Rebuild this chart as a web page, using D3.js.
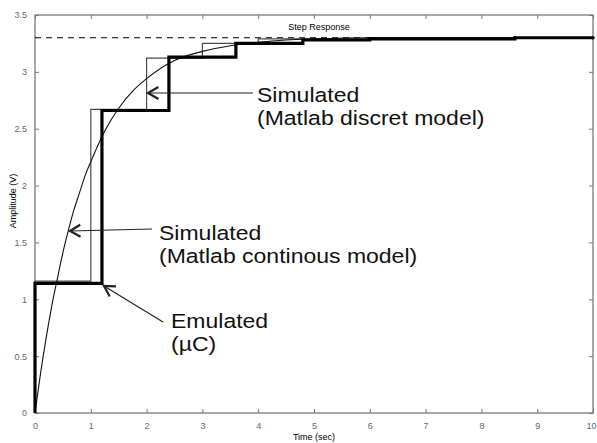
<!DOCTYPE html>
<html>
<head>
<meta charset="utf-8">
<script src="https://cdn.jsdelivr.net/npm/d3@7"></script>
<style>
  body { margin: 0; background: #fff; }
  svg { font-family: "Liberation Sans", Arial, sans-serif; }
</style>
</head>
<body>
<svg></svg>
<script>
// step response: continuous model, discrete model, emulated (uC)

const width = 597;
const height = 443;
const margin = { top: 15, right: 4, bottom: 30, left: 35 };

// datos
const xTicks = [0, 1, 2, 3, 4, 5, 6, 7, 8, 9, 10];
const yTicks = [0, 0.5, 1, 1.5, 2, 2.5, 3, 3.5];
const finalValue = 3.3;

// modelo continuo (Matlab)
const contT = [0, 0.1, 0.2, 0.3, 0.4, 0.5, 0.6, 0.7, 0.8, 0.9, 1, 1.25, 1.5, 1.75, 2, 2.5, 3, 3.5, 4, 4.5, 5, 6, 7, 8, 9, 10];
const contV = [0, 0.35, 0.66, 0.94, 1.18, 1.41, 1.61, 1.79, 1.94, 2.09, 2.21, 2.48, 2.68, 2.83, 2.94, 3.10, 3.18, 3.23, 3.26, 3.28, 3.29, 3.30, 3.30, 3.30, 3.30, 3.30];

// modelo discreto (Matlab), T = 1 s
const discT = [0, 0, 1, 2, 3, 4, 5, 6, 7, 8, 9, 10];
const discV = [0, 1.16, 2.67, 3.12, 3.25, 3.29, 3.29, 3.30, 3.30, 3.30, 3.30, 3.30];

// emulado (uC), T = 1.2 s
const emuT = [0, 0, 1.2, 2.4, 3.6, 4.8, 6.0, 8.6, 10];
const emuV = [0, 1.14, 2.66, 3.13, 3.25, 3.28, 3.29, 3.30, 3.30];

const svg = d3.select("svg").attr("width", width).attr("height", height);

const x = d3.scaleLinear().domain([0, 10]).range([margin.left, width - margin.right]);
const y = d3.scaleLinear().domain([0, 3.5]).range([height - margin.bottom, margin.top]);

const axisColor = "#7a7a7a";

// marco
svg.append("rect")
  .attr("x", x(0)).attr("y", y(3.5))
  .attr("width", x(10) - x(0)).attr("height", y(0) - y(3.5))
  .attr("fill", "none").attr("stroke", axisColor).attr("stroke-width", 1.3);

// ejes con ticks hacia dentro
function styleAxis(g) {
  g.select(".domain").remove();
  g.selectAll(".tick line").attr("stroke", axisColor);
  g.selectAll(".tick text").attr("fill", "#666").style("font-size", "9px");
}

svg.append("g")
  .attr("transform", `translate(0,${y(0)})`)
  .call(d3.axisBottom(x).tickValues(xTicks).tickSizeInner(-4).tickSizeOuter(0).tickPadding(10).tickFormat(d3.format("~g")))
  .call(styleAxis)
  .selectAll(".tick text")
  .filter((d) => d === 10)
  .attr("dx", -2); // que no se corte en el borde

svg.append("g")
  .attr("transform", `translate(0,${y(3.5)})`)
  .call(d3.axisTop(x).tickValues(xTicks).tickSizeInner(-4).tickSizeOuter(0).tickFormat(""))
  .call(styleAxis);

svg.append("g")
  .attr("transform", `translate(${x(0)},0)`)
  .call(d3.axisLeft(y).tickValues(yTicks).tickSizeInner(-4).tickSizeOuter(0).tickPadding(8).tickFormat(d3.format("~g")))
  .call(styleAxis);

svg.append("g")
  .attr("transform", `translate(${x(10)},0)`)
  .call(d3.axisRight(y).tickValues(yTicks).tickSizeInner(-4).tickSizeOuter(0).tickFormat(""))
  .call(styleAxis);

// valor final (linea discontinua)
svg.append("line")
  .attr("x1", x(0)).attr("x2", x(10))
  .attr("y1", y(finalValue)).attr("y2", y(finalValue))
  .attr("stroke", "#000").attr("stroke-width", 1)
  .attr("stroke-dasharray", "6,5");

// modelo discreto
const stepLine = d3.line().x((d) => x(d[0])).y((d) => y(d[1])).curve(d3.curveStepAfter);

svg.append("path")
  .datum(discT.map((t, i) => [t, discV[i]]))
  .attr("d", stepLine)
  .attr("fill", "none").attr("stroke", "#4a4a4a").attr("stroke-width", 1.2);

// modelo continuo
svg.append("path")
  .datum(contT.map((t, i) => [t, contV[i]]))
  .attr("d", d3.line().x((d) => x(d[0])).y((d) => y(d[1])).curve(d3.curveMonotoneX))
  .attr("fill", "none").attr("stroke", "#111").attr("stroke-width", 1.1);

// emulado
svg.append("path")
  .datum(emuT.map((t, i) => [t, emuV[i]]))
  .attr("d", stepLine)
  .attr("fill", "none").attr("stroke", "#000").attr("stroke-width", 3.2);

// marcas pequeñas en los ultimos puntos
svg.selectAll(".emu-dot")
  .data(emuT.map((t, i) => [t, emuV[i]]).filter((d) => d[0] >= 6))
  .enter().append("circle")
  .attr("cx", (d) => x(d[0])).attr("cy", (d) => y(d[1]))
  .attr("r", 1.8).attr("fill", "#000");

// titulos
svg.append("text")
  .attr("x", 319).attr("y", 30)
  .attr("text-anchor", "middle").style("font-size", "9px")
  .text("Step Response");

svg.append("text")
  .attr("x", (x(0) + x(10)) / 2).attr("y", 440)
  .attr("text-anchor", "middle").style("font-size", "9px")
  .text("Time (sec)");

svg.append("text")
  .attr("transform", "translate(16,201) rotate(-90)")
  .attr("text-anchor", "middle").style("font-size", "9px")
  .text("Amplitude (V)");

// anotaciones con flechas
function arrow(x1, y1, x2, y2) {
  const a = Math.atan2(y1 - y2, x1 - x2);
  const len = 12, spread = Math.PI / 6;
  svg.append("line")
    .attr("x1", x1).attr("y1", y1).attr("x2", x2).attr("y2", y2)
    .attr("stroke", "#222").attr("stroke-width", 1.2);
  svg.append("path")
    .attr("d", `M${x2 + len * Math.cos(a - spread)},${y2 + len * Math.sin(a - spread)}L${x2},${y2}L${x2 + len * Math.cos(a + spread)},${y2 + len * Math.sin(a + spread)}`)
    .attr("fill", "none").attr("stroke", "#222").attr("stroke-width", 2.2);
}

function label(lx, ly, lines) {
  const t = svg.append("text")
    .attr("transform", `translate(${lx},${ly}) scale(1.18,1)`)
    .style("font-size", "19.5px").attr("fill", "#111");
  lines.forEach((s, i) => {
    t.append("tspan").attr("x", 0).attr("y", i * 23).text(s);
  });
}

arrow(253, 93, 148, 93);
label(257, 102, ["Simulated", "(Matlab discret model)"]);

arrow(152, 229, 70, 231);
label(159, 240, ["Simulated", "(Matlab continous model)"]);

arrow(163, 322, 104, 286);
label(171, 328, ["Emulated", "(µC)"]);
</script>
</body>
</html>
